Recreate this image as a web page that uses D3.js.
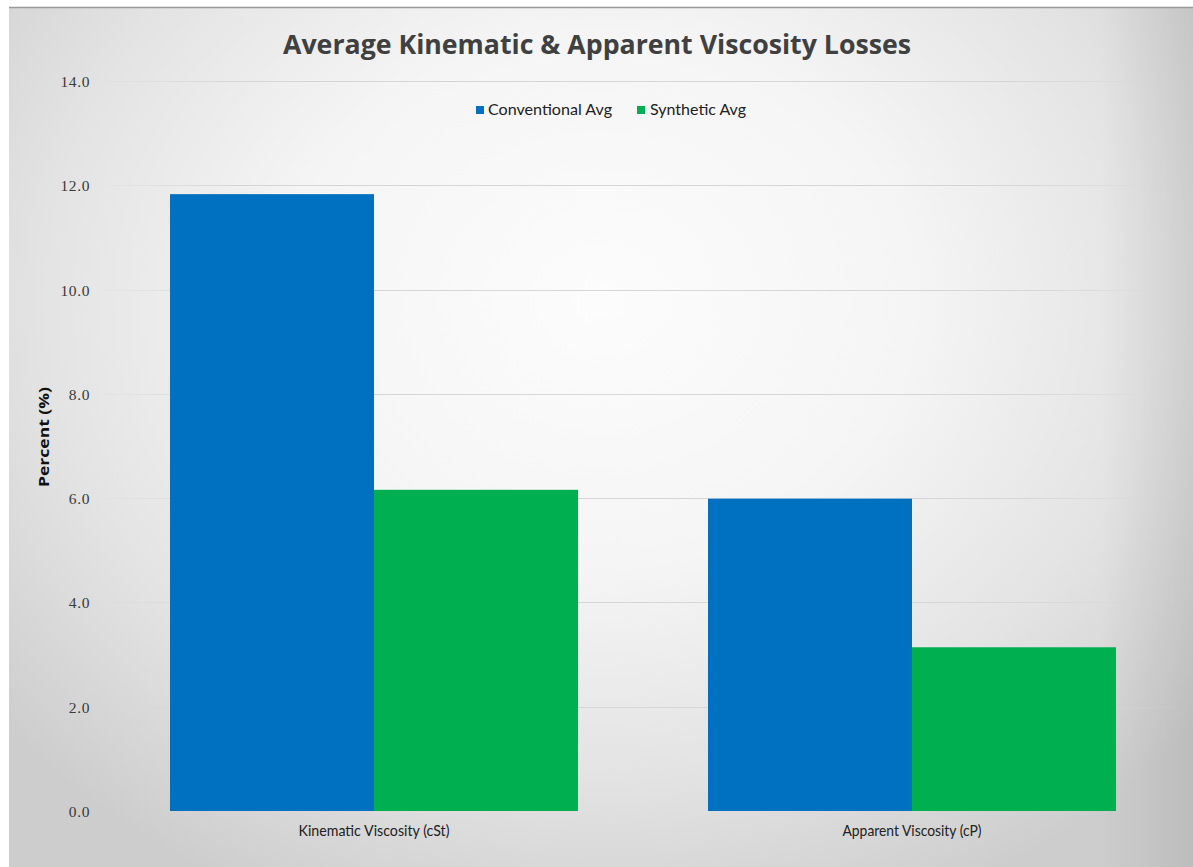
<!DOCTYPE html>
<html>
<head>
<meta charset="utf-8">
<script src="https://cdn.jsdelivr.net/npm/d3@7"></script>
<style>
  html, body { margin: 0; padding: 0; background: #ffffff; }
  svg { display: block; }
</style>
</head>
<body>
<svg id="chart" width="1193" height="867"></svg>
<script>
// ---- data ----
const categories = ["Kinematic Viscosity (cSt)", "Apparent Viscosity (cP)"];
const seriesNames = ["Conventional Avg", "Synthetic Avg"];
const conventionalAvg = [11.83, 5.99];
const syntheticAvg = [6.16, 3.14];
const yTicks = [0, 2, 4, 6, 8, 10, 12, 14];
const seriesColors = ["#0070c0", "#00b050"];
const titleText = "Average Kinematic & Apparent Viscosity Losses";
const yAxisTitle = "Percent (%)";

const W = 1193, H = 867;
const svg = d3.select("#chart");

// ---- background ----
const defs = svg.append("defs");
const rg = defs.append("radialGradient").attr("id", "bg")
  .attr("gradientUnits", "userSpaceOnUse")
  .attr("cx", 600).attr("cy", 300).attr("r", 780)
  .attr("gradientTransform", "translate(600,300) scale(1,0.85) translate(-600,-300)");
rg.append("stop").attr("offset", "0").attr("stop-color", "#fcfcfc");
rg.append("stop").attr("offset", "0.4").attr("stop-color", "#f5f5f5");
rg.append("stop").attr("offset", "0.72").attr("stop-color", "#e3e3e3");
rg.append("stop").attr("offset", "1").attr("stop-color", "#cdcdcd");

const lg = defs.append("linearGradient").attr("id", "rightShade")
  .attr("x1", "0").attr("x2", "1").attr("y1", "0").attr("y2", "0");
lg.append("stop").attr("offset", "0").attr("stop-color", "#000").attr("stop-opacity", 0);
lg.append("stop").attr("offset", "1").attr("stop-color", "#000").attr("stop-opacity", 0.08);

svg.append("rect").attr("x", 0).attr("y", 0).attr("width", W).attr("height", H).attr("fill", "#ffffff");
svg.append("rect").attr("x", 9).attr("y", 7).attr("width", W - 9).attr("height", H - 7).attr("fill", "url(#bg)");
svg.append("rect").attr("x", 1100).attr("y", 7).attr("width", W - 1100).attr("height", H - 7).attr("fill", "url(#rightShade)");
svg.append("line").attr("x1", 9).attr("x2", W).attr("y1", 7.5).attr("y2", 7.5)
  .attr("stroke", "#9a9a9a").attr("stroke-width", 1.5);

// ---- scales ----
const plotLeft = 105, plotRight = 1181, plotTop = 81, plotBottom = 811;
const x0 = d3.scaleBand().domain(categories).range([plotLeft, plotRight])
  .paddingInner(0.2416).paddingOuter(0.1208);
const x1 = d3.scaleBand().domain(seriesNames).range([0, x0.bandwidth()]).padding(0);
const y = d3.scaleLinear().domain([0, 14]).range([plotBottom, plotTop]);

// ---- gridlines ----
const gg = defs.append("linearGradient").attr("id", "gridFade")
  .attr("gradientUnits", "userSpaceOnUse")
  .attr("x1", plotLeft).attr("x2", plotRight).attr("y1", 0).attr("y2", 0);
gg.append("stop").attr("offset", "0").attr("stop-color", "#d6d6d6").attr("stop-opacity", 0.2);
gg.append("stop").attr("offset", "0.12").attr("stop-color", "#d6d6d6").attr("stop-opacity", 1);
gg.append("stop").attr("offset", "0.85").attr("stop-color", "#d6d6d6").attr("stop-opacity", 1);
gg.append("stop").attr("offset", "1").attr("stop-color", "#d6d6d6").attr("stop-opacity", 0.1);

svg.append("g").selectAll("rect").data(yTicks.filter(d => d > 0)).join("rect")
  .attr("x", plotLeft).attr("width", plotRight - plotLeft)
  .attr("y", d => Math.round(y(d))).attr("height", 1)
  .attr("fill", "url(#gridFade)");

// ---- bars ----
const rows = categories.map((c, i) => ({ cat: c, vals: [conventionalAvg[i], syntheticAvg[i]] }));
const groups = svg.append("g").selectAll("g").data(rows).join("g")
  .attr("transform", d => `translate(${x0(d.cat)},0)`);
groups.selectAll("rect").data(d => d.vals.map((v, j) => ({ s: seriesNames[j], v, j }))).join("rect")
  .attr("x", d => x1(d.s))
  .attr("width", x1.bandwidth())
  .attr("y", d => y(d.v))
  .attr("height", d => y(0) - y(d.v))
  .attr("fill", d => seriesColors[d.j]);

// ---- y axis labels ----
const yAxis = d3.axisLeft(y).tickValues(yTicks).tickFormat(d3.format(".1f")).tickSize(0).tickPadding(0);
const yg = svg.append("g").attr("transform", "translate(90,0)").call(yAxis);
yg.select(".domain").remove();
yg.selectAll("text")
  .attr("font-family", "'Liberation Serif', 'DejaVu Serif', serif")
  .attr("font-size", 15.5)
  .attr("letter-spacing", 0.6)
  .attr("fill", "#3a3a3a")
  .attr("dy", "0.35em");

// ---- x axis labels ----
const xAxis = d3.axisBottom(x0).tickSize(0).tickPadding(0);
const xg = svg.append("g").attr("transform", `translate(0,${plotBottom})`).call(xAxis);
xg.select(".domain").remove();
xg.selectAll("text")
  .attr("font-family", "Lato, 'Open Sans', sans-serif")
  .attr("font-size", 15)
  .attr("fill", "#222")
  .attr("y", 25)
  .attr("dy", 0)
  .attr("textLength", (d, i) => i === 0 ? 151 : 139)
  .attr("lengthAdjust", "spacingAndGlyphs");

// ---- title ----
svg.append("text")
  .attr("x", 597).attr("y", 54)
  .attr("text-anchor", "middle")
  .attr("font-family", "'Open Sans', Lato, sans-serif")
  .attr("font-weight", "bold")
  .attr("font-size", 26)
  .attr("fill", "#404040")
  .attr("textLength", 628)
  .attr("lengthAdjust", "spacingAndGlyphs")
  .text(titleText);

// ---- y axis title ----
svg.append("text")
  .attr("transform", "translate(49,437) rotate(-90)")
  .attr("text-anchor", "middle")
  .attr("font-family", "'Open Sans', Lato, sans-serif")
  .attr("font-weight", "bold")
  .attr("font-size", 13.5)
  .attr("fill", "#111")
  .attr("textLength", 100)
  .attr("lengthAdjust", "spacingAndGlyphs")
  .text(yAxisTitle);

// ---- legend ----
const legendItems = [
  { name: seriesNames[0], color: seriesColors[0], sx: 476, tx: 488, tl: 124 },
  { name: seriesNames[1], color: seriesColors[1], sx: 637, tx: 650, tl: 96 }
];
const leg = svg.append("g");
leg.selectAll("rect").data(legendItems).join("rect")
  .attr("x", d => d.sx).attr("y", 106).attr("width", 8).attr("height", 8)
  .attr("fill", d => d.color);
leg.selectAll("text").data(legendItems).join("text")
  .attr("x", d => d.tx).attr("y", 115)
  .attr("font-family", "Lato, 'Open Sans', sans-serif")
  .attr("font-size", 15)
  .attr("fill", "#222")
  .attr("textLength", d => d.tl)
  .attr("lengthAdjust", "spacingAndGlyphs")
  .text(d => d.name);
</script>
</body>
</html>
